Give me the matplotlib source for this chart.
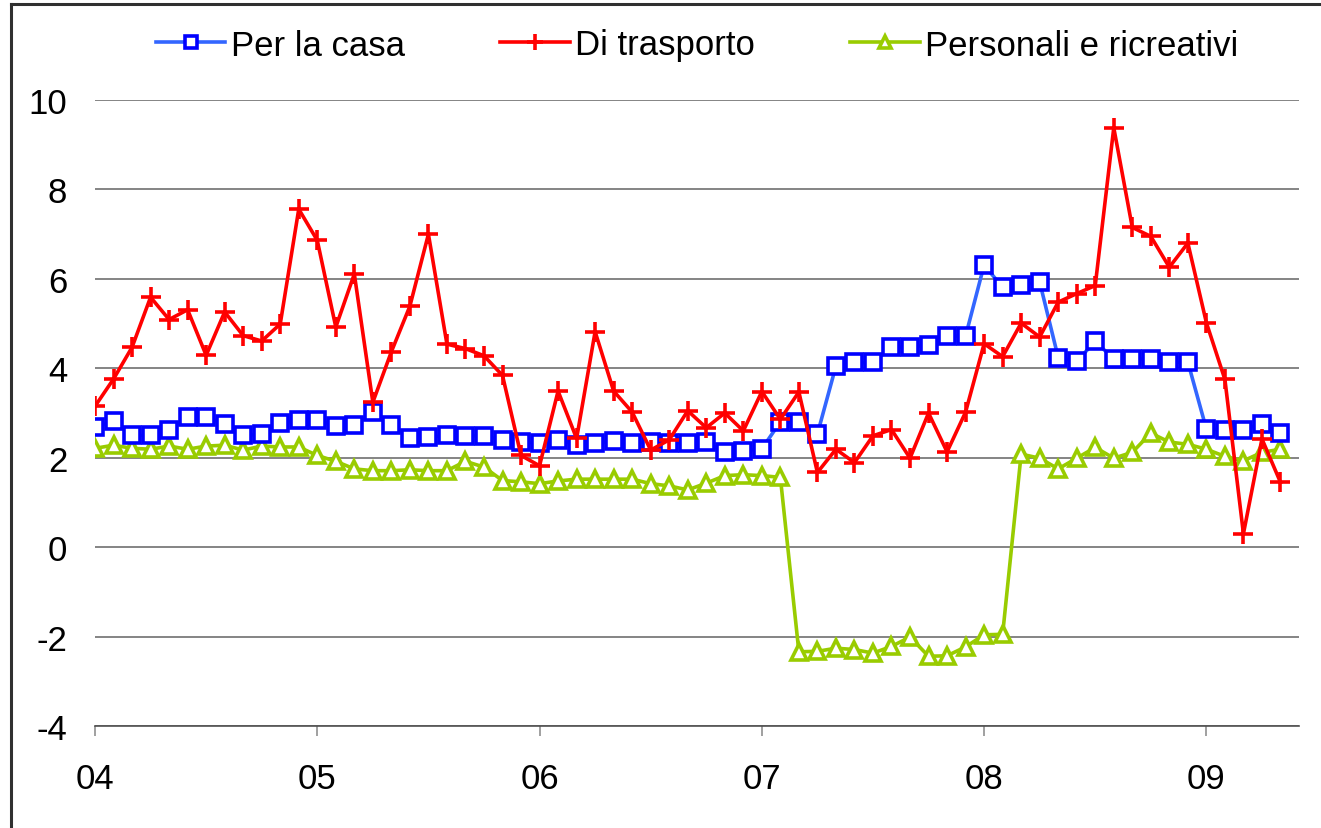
import numpy as np
import matplotlib
matplotlib.use("Agg")
import matplotlib.pyplot as plt
from matplotlib.lines import Line2D

plt.rcParams['font.family'] = ['Liberation Sans', 'DejaVu Sans']
plt.rcParams['axes.unicode_minus'] = False

# monthly data, Jan 2004 .. May 2009
year_labels = ['04', '05', '06', '07', '08', '09']

per_la_casa = [2.68, 2.82, 2.50, 2.50, 2.62, 2.91, 2.91, 2.75, 2.50, 2.53,
               2.77, 2.84, 2.84, 2.71, 2.73, 3.02, 2.74, 2.45, 2.46, 2.50,
               2.49, 2.49, 2.39, 2.35, 2.33, 2.40, 2.29, 2.33, 2.37, 2.33,
               2.35, 2.33, 2.34, 2.35, 2.12, 2.15, 2.20, 2.80, 2.80, 2.53,
               4.05, 4.13, 4.13, 4.47, 4.47, 4.52, 4.72, 4.72, 6.31, 5.81,
               5.87, 5.93, 4.24, 4.16, 4.60, 4.21, 4.21, 4.21, 4.13, 4.14,
               2.64, 2.63, 2.63, 2.76, 2.55]

di_trasporto = [3.15, 3.76, 4.47, 5.59, 5.09, 5.31, 4.29, 5.26, 4.73, 4.61,
                4.99, 7.56, 6.86, 4.92, 6.11, 3.24, 4.37, 5.39, 7.00, 4.54,
                4.44, 4.28, 3.84, 2.05, 1.82, 3.49, 2.43, 4.82, 3.49, 3.02,
                2.17, 2.40, 3.05, 2.67, 3.00, 2.60, 3.48, 2.86, 3.47, 1.67,
                2.19, 1.89, 2.49, 2.63, 1.99, 3.00, 2.13, 3.02, 4.55, 4.26,
                5.01, 4.70, 5.48, 5.67, 5.85, 9.38, 7.15, 6.95, 6.26, 6.80,
                5.02, 3.75, 0.30, 2.42, 1.45]

personali_ricreativi = [2.21, 2.28, 2.21, 2.19, 2.26, 2.19, 2.26, 2.28, 2.17, 2.26,
                        2.24, 2.24, 2.05, 1.92, 1.75, 1.71, 1.71, 1.73, 1.71, 1.71,
                        1.92, 1.79, 1.49, 1.46, 1.42, 1.48, 1.52, 1.52, 1.52, 1.52,
                        1.42, 1.37, 1.28, 1.43, 1.60, 1.62, 1.60, 1.56, -2.34, -2.33,
                        -2.26, -2.29, -2.37, -2.22, -2.01, -2.44, -2.43, -2.23, -1.96, -1.95,
                        2.08, 1.99, 1.75, 1.99, 2.23, 1.99, 2.12, 2.55, 2.35, 2.30,
                        2.19, 2.03, 1.93, 2.12, 2.19]

x = np.arange(len(per_la_casa))

fig = plt.figure(figsize=(13.21, 8.29), dpi=100)
ax = fig.add_axes([95 / 1321, 1 - 727 / 829, (1299 - 95) / 1321, (727 - 101) / 829])

ax.plot(x, per_la_casa, color='#3366FF', lw=2.6, marker='s', ms=11,
        mfc='white', mec='#0000FF', mew=2.6, label='Per la casa', zorder=3)
ax.plot(x, di_trasporto, color='#FF0000', lw=2.6, marker='+', ms=15,
        mec='#FF0000', mew=2.6, label='Di trasporto', zorder=4)
ax.plot(x, personali_ricreativi, color='#99CC00', lw=2.6, marker='^', ms=11,
        mfc='white', mec='#99CC00', mew=2.6, label='Personali e ricreativi', zorder=2)

ax.set_xlim(0, 65)
ax.set_ylim(-4, 10)
ax.set_yticks(np.arange(-4, 11, 2))
ax.set_xticks(np.arange(0, 61, 12))
ax.set_xticklabels(year_labels)

ax.grid(axis='y', color='#707070', lw=1.2)
ax.set_axisbelow(True)
for s in ['left', 'right', 'top']:
    ax.spines[s].set_visible(False)
ax.spines['bottom'].set_color('#505050')
ax.spines['bottom'].set_linewidth(1.2)

ax.tick_params(axis='y', length=0, pad=20, labelsize=25)
ax.tick_params(axis='x', length=7, width=1.2, color='#909090', pad=19, labelsize=25)

fig.legend(loc='center', bbox_to_anchor=(697 / 1321, 1 - 46 / 829), ncol=3,
           frameon=False, fontsize=25, handlelength=2.0, handletextpad=0.15,
           columnspacing=2.75, markerscale=0.8)

# frame around the chart
fig.add_artist(Line2D([11 / 1321, 11 / 1321], [0, 1 - 5 / 829], color='#303030', lw=2.2))
fig.add_artist(Line2D([11 / 1321, 1], [1 - 5 / 829, 1 - 5 / 829], color='#303030', lw=2.2))

fig.savefig('out.png', dpi=100)
